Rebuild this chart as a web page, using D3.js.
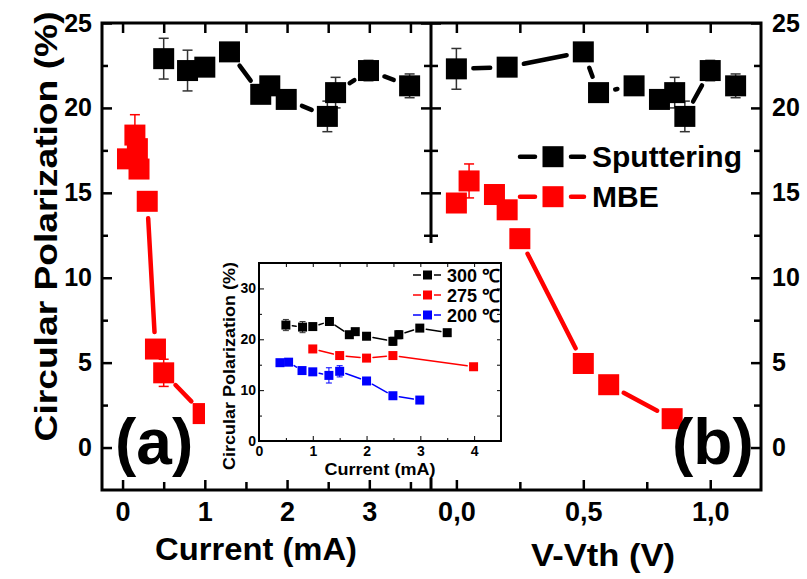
<!DOCTYPE html>
<html lang="en">
<head>
<meta charset="UTF-8">
<title>Circular Polarization vs Current and V-Vth</title>
<script src="https://d3js.org/d3.v7.min.js"></script>
<style>
  body { margin: 0; background: #ffffff; }
  svg text { font-family: "Liberation Sans", Arial, Helvetica, sans-serif; font-weight: bold; fill: #000; }
</style>
</head>
<body>
<svg id="chart" width="807" height="579"></svg>
<script>
// panel (a): polarization vs current
const sputCurrent = [0.5, 0.79, 1.0, 1.3, 1.68, 1.79, 1.99, 2.49, 2.59, 2.99, 3.49];
const sputPolA    = [22.9, 22.2, 22.4, 23.3, 20.8, 21.3, 20.5, 19.5, 20.9, 22.2, 21.3];
const sputErrA    = [1.2, 1.2, 0, 0, 0, 0, 0.4, 0.9, 0.9, 0.6, 0.7];
const mbeCurrent  = [0.06, 0.15, 0.18, 0.2, 0.3, 0.4, 0.5, 0.98];
const mbePolA     = [17.0, 18.4, 17.6, 16.4, 14.5, 5.8, 4.4, 2.0];
const mbeErrA     = [0, 1.2, 0, 0, 0, 0, 0.8, 0];

// panel (b): polarization vs V-Vth
const sputVolt = [0.0, 0.2, 0.5, 0.56, 0.7, 0.8, 0.86, 0.9, 1.0, 1.1];
const sputPolB = [22.3, 22.4, 23.3, 20.9, 21.3, 20.5, 20.9, 19.5, 22.2, 21.3];
const sputErrB = [1.2, 0, 0, 0, 0, 0.4, 0.9, 0.9, 0.6, 0.7];
const mbeVolt  = [0.0, 0.05, 0.15, 0.2, 0.25, 0.5, 0.6, 0.85];
const mbePolB  = [14.4, 15.7, 14.9, 14.0, 12.3, 4.95, 3.7, 1.7];
const mbeErrB  = [0, 1.0, 0, 0, 0, 0, 0.4, 0];

// inset: growth temperature series
const inCur300 = [0.5, 0.81, 1.0, 1.31, 1.68, 1.79, 2.0, 2.49, 2.6, 2.99, 3.5];
const inPol300 = [22.8, 22.4, 22.5, 23.5, 20.9, 21.5, 20.6, 19.6, 20.9, 22.2, 21.3];
const inErr300 = [1.1, 1.1, 0, 0, 0, 0, 0, 0.8, 0.8, 0, 0];
const inCur275 = [1.0, 1.5, 2.0, 2.49, 3.99];
const inPol275 = [18.1, 16.8, 16.3, 16.8, 14.6];
const inErr275 = [0, 0, 0, 0, 0];
const inCur200 = [0.39, 0.55, 0.8, 1.0, 1.3, 1.5, 2.0, 2.49, 2.99];
const inPol200 = [15.4, 15.5, 13.85, 13.6, 12.9, 13.7, 11.8, 8.9, 8.05];
const inErr200 = [0, 0, 0, 0, 1.5, 1.1, 0, 0, 0];

const mainLegend  = ["Sputtering", "MBE"];
const insetLegend = ["300 \u2103", "275 \u2103", "200 \u2103"];

const yTicks      = [0, 5, 10, 15, 20, 25];
const yMinor      = [2.5, 7.5, 12.5, 17.5, 22.5];
const xTicksA     = [0, 1, 2, 3];
const xMinorA     = [0.5, 1.5, 2.5, 3.5];
const xTicksB     = [0, 0.5, 1.0];
const xMinorB     = [0.25, 0.75];
const inYTicks    = [0, 10, 20, 30];
const inYMinor    = [5, 15, 25];
const inXTicks    = [0, 1, 2, 3, 4];
const inXMinor    = [0.5, 1.5, 2.5, 3.5];

const svg = d3.select("#chart");

const pTop = 23, pBottom = 490, pLeft = 102, pMid = 431, pRight = 761;
const y  = d3.scaleLinear().domain([-2.5, 25]).range([pBottom, pTop]);
const xA = d3.scaleLinear().domain([-0.25, 3.75]).range([pLeft, pMid]);
const xB = d3.scaleLinear().domain([-0.1, 1.2]).range([pMid, pRight]);

const RED = "#ff0000", BLUE = "#0000ff";

function axis(fn, scale, values, size, transform, fmt, fontSize, pad, sw) {
  const a = fn(scale).tickValues(values).tickSizeInner(size).tickSizeOuter(0)
    .tickPadding(pad || 0).tickFormat(fmt || (() => ""));
  const g = svg.append("g").attr("transform", transform).call(a);
  g.select(".domain").remove();
  g.selectAll(".tick line").attr("stroke", "#000").attr("stroke-width", sw || 2.5);
  g.selectAll(".tick text").style("font-size", (fontSize || 10) + "px");
  return g;
}

// line segments with a gap round each symbol (Origin style)
function gapSegs(pts, cut) {
  const segs = [];
  for (let i = 0; i < pts.length - 1; i++) {
    const [x1, y1] = pts[i], [x2, y2] = pts[i + 1];
    const len = Math.hypot(x2 - x1, y2 - y1);
    if (len <= 2 * cut) continue;
    const ux = (x2 - x1) / len, uy = (y2 - y1) / len;
    segs.push([x1 + ux * cut, y1 + uy * cut, x2 - ux * cut, y2 - uy * cut]);
  }
  return segs;
}

function series(g, xs, ys, errs, sx, sy, color, opt) {
  const pts = xs.map((v, i) => [sx(v), sy(ys[i])]);
  g.selectAll(null).data(gapSegs(pts, opt.cut)).join("line")
    .attr("x1", d => d[0]).attr("y1", d => d[1]).attr("x2", d => d[2]).attr("y2", d => d[3])
    .attr("stroke", color).attr("stroke-width", opt.lw).attr("stroke-linecap", "round");
  const eb = xs.map((v, i) => ({ x: sx(v), y1: sy(ys[i] + errs[i]), y2: sy(ys[i] - errs[i]), e: errs[i] }))
    .filter(d => d.e > 0);
  const ec = color === "#000" ? "#333" : color;
  eb.forEach(d => {
    g.append("line").attr("x1", d.x).attr("x2", d.x).attr("y1", d.y1).attr("y2", d.y2)
      .attr("stroke", ec).attr("stroke-width", opt.ew);
    [d.y1, d.y2].forEach(yy => g.append("line").attr("x1", d.x - opt.cap).attr("x2", d.x + opt.cap)
      .attr("y1", yy).attr("y2", yy).attr("stroke", ec).attr("stroke-width", opt.ew));
  });
  g.selectAll(null).data(pts).join("rect")
    .attr("x", d => d[0] - opt.size / 2).attr("y", d => d[1] - opt.size / 2)
    .attr("width", opt.size).attr("height", opt.size).attr("fill", color);
}

// ---------- main axes ----------
const fmtB = d => d.toFixed(1).replace(".", ",");
axis(d3.axisBottom, xA, xTicksA, -10, `translate(0,${pBottom})`, d => d, 27, 12);
axis(d3.axisBottom, xA, xMinorA, -8, `translate(0,${pBottom})`);
axis(d3.axisTop, xA, xTicksA.concat(xMinorA), -10, `translate(0,${pTop})`);
axis(d3.axisBottom, xB, xTicksB, -10, `translate(0,${pBottom})`, fmtB, 27, 12);
axis(d3.axisBottom, xB, xMinorB, -8, `translate(0,${pBottom})`);
axis(d3.axisTop, xB, xTicksB.concat(xMinorB), -10, `translate(0,${pTop})`);

axis(d3.axisLeft, y, yTicks, -10, `translate(${pLeft},0)`, d => d, 25, 10);
axis(d3.axisLeft, y, yMinor, -6, `translate(${pLeft},0)`);
axis(d3.axisRight, y, yTicks, -10, `translate(${pRight},0)`, d => d, 25, 11);
axis(d3.axisRight, y, yMinor, -7, `translate(${pRight},0)`);
// divider between panels: ticks on both sides
axis(d3.axisRight, y, yTicks, -10, `translate(${pMid},0)`);
axis(d3.axisRight, y, yMinor, -7, `translate(${pMid},0)`);
axis(d3.axisLeft, y, yTicks, -10, `translate(${pMid},0)`);
axis(d3.axisLeft, y, yMinor, -7, `translate(${pMid},0)`);

const frame = svg.append("g").attr("stroke", "#000").attr("stroke-width", 3).attr("fill", "none");
frame.append("rect").attr("x", pLeft).attr("y", pTop).attr("width", pRight - pLeft).attr("height", pBottom - pTop);
frame.append("line").attr("x1", pMid).attr("x2", pMid).attr("y1", pTop).attr("y2", pBottom);

// ---------- main data ----------
const mainOpt = { cut: 17, lw: 4.5, size: 21, ew: 1.5, cap: 5 };
const gA = svg.append("g");
series(gA, mbeCurrent, mbePolA, mbeErrA, xA, y, RED, mainOpt);
series(gA, sputCurrent, sputPolA, sputErrA, xA, y, "#000", mainOpt);
const gB = svg.append("g");
series(gB, mbeVolt, mbePolB, mbeErrB, xB, y, RED, mainOpt);
series(gB, sputVolt, sputPolB, sputErrB, xB, y, "#000", mainOpt);

// ---------- main legend ----------
const leg = svg.append("g");
[["#000", 156.7], [RED, 196.7]].forEach(([c, yy], i) => {
  leg.append("line").attr("x1", 520).attr("x2", 535).attr("y1", yy).attr("y2", yy)
    .attr("stroke", c).attr("stroke-width", 4.5).attr("stroke-linecap", "round");
  leg.append("line").attr("x1", 571).attr("x2", 584).attr("y1", yy).attr("y2", yy)
    .attr("stroke", c).attr("stroke-width", 4.5).attr("stroke-linecap", "round");
  leg.append("rect").attr("x", 553 - 10.5).attr("y", yy - 10.5).attr("width", 21).attr("height", 21).attr("fill", c);
  leg.append("text").attr("x", 592).attr("y", yy + 10).style("font-size", "30px").text(mainLegend[i]);
});

// ---------- titles ----------
svg.append("text").attr("transform", "translate(57,226.5) rotate(-90)").attr("text-anchor", "middle")
  .style("font-size", "32px").attr("textLength", 430).attr("lengthAdjust", "spacingAndGlyphs")
  .text("Circular Polarization (%)");
svg.append("text").attr("x", 256).attr("y", 560).attr("text-anchor", "middle")
  .style("font-size", "32px").attr("textLength", 202).attr("lengthAdjust", "spacingAndGlyphs")
  .text("Current (mA)");
svg.append("text").attr("x", 603).attr("y", 566).attr("text-anchor", "middle")
  .style("font-size", "32px").attr("textLength", 144).attr("lengthAdjust", "spacingAndGlyphs")
  .text("V-Vth (V)");
svg.append("text").attr("x", 115).attr("y", 464).style("font-size", "64px").text("(a)");
svg.append("text").attr("x", 672).attr("y", 464).style("font-size", "64px").text("(b)");

// ---------- inset ----------
svg.append("rect").attr("x", 205).attr("y", 243).attr("width", 300).attr("height", 235).attr("fill", "#fff");
const iL = 259, iR = 501, iT = 263, iB = 441;
const ix = d3.scaleLinear().domain([0, 4.5]).range([iL, iR]);
const iy = d3.scaleLinear().domain([0, 35]).range([iB, iT]);

axis(d3.axisBottom, ix, inXTicks, -5, `translate(0,${iB})`, d => d, 14, 5, 1);
axis(d3.axisBottom, ix, inXMinor, -3, `translate(0,${iB})`, null, 10, 0, 1);
axis(d3.axisTop, ix, inXTicks.concat(inXMinor), -4, `translate(0,${iT})`, null, 10, 0, 1);
axis(d3.axisLeft, iy, inYTicks, -5, `translate(${iL},0)`, d => d, 14, 3, 1);
axis(d3.axisLeft, iy, inYMinor, -3, `translate(${iL},0)`, null, 10, 0, 1);
axis(d3.axisRight, iy, inYTicks.concat(inYMinor), -4, `translate(${iR},0)`, null, 10, 0, 1);
svg.append("rect").attr("x", iL).attr("y", iT).attr("width", iR - iL).attr("height", iB - iT)
  .attr("fill", "none").attr("stroke", "#000").attr("stroke-width", 2);

const inOpt = { cut: 6.5, lw: 1.5, size: 9, ew: 1, cap: 3 };
const gI = svg.append("g");
series(gI, inCur200, inPol200, inErr200, ix, iy, BLUE, inOpt);
series(gI, inCur275, inPol275, inErr275, ix, iy, RED, inOpt);
series(gI, inCur300, inPol300, inErr300, ix, iy, "#000", inOpt);

[["#000", 275], [RED, 295], [BLUE, 315]].forEach(([c, yy], i) => {
  gI.append("line").attr("x1", 413).attr("x2", 421).attr("y1", yy).attr("y2", yy).attr("stroke", c).attr("stroke-width", 1.5);
  gI.append("line").attr("x1", 434).attr("x2", 441).attr("y1", yy).attr("y2", yy).attr("stroke", c).attr("stroke-width", 1.5);
  gI.append("rect").attr("x", 427.5 - 4.5).attr("y", yy - 4.5).attr("width", 9).attr("height", 9).attr("fill", c);
  gI.append("text").attr("x", 447).attr("y", yy + 6.5).style("font-size", "18px").text(insetLegend[i]);
});

svg.append("text").attr("transform", "translate(235,366) rotate(-90)").attr("text-anchor", "middle")
  .style("font-size", "17px").attr("textLength", 208).attr("lengthAdjust", "spacingAndGlyphs")
  .text("Circular Polarization (%)");
svg.append("text").attr("x", 380).attr("y", 475).attr("text-anchor", "middle")
  .style("font-size", "17px").attr("textLength", 111).attr("lengthAdjust", "spacingAndGlyphs")
  .text("Current (mA)");
</script>
</body>
</html>
